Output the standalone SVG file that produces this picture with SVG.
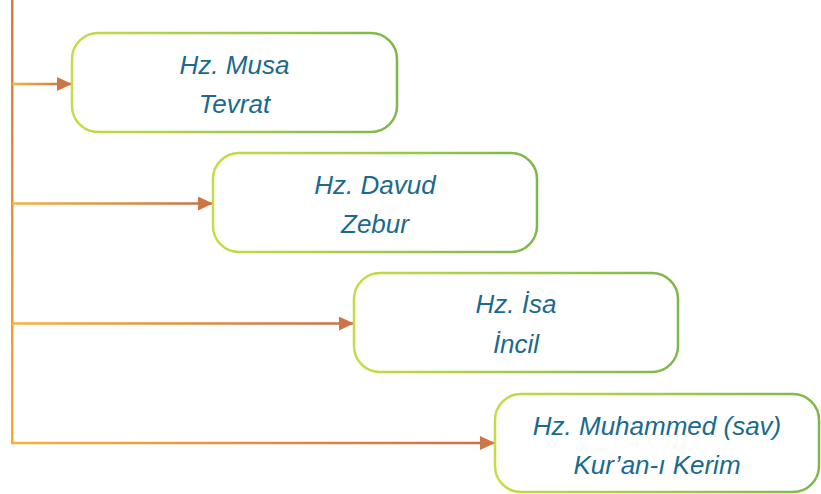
<svg xmlns="http://www.w3.org/2000/svg" width="821" height="494" viewBox="0 0 821 494">
<defs>
<linearGradient id="gBox" x1="0" y1="0" x2="1" y2="0">
<stop offset="0" stop-color="#c5dc45"/>
<stop offset="1" stop-color="#7cb84a"/>
</linearGradient>
<linearGradient id="gV" x1="0" y1="0" x2="0" y2="1">
<stop offset="0" stop-color="#d47c44"/>
<stop offset="1" stop-color="#f7a936"/>
</linearGradient>
<linearGradient id="gH1" gradientUnits="userSpaceOnUse" x1="12" y1="0" x2="72" y2="0">
<stop offset="0" stop-color="#fbb03b"/>
<stop offset="1" stop-color="#c86f4a"/>
</linearGradient>
<linearGradient id="gH2" href="#gH1" gradientUnits="userSpaceOnUse" x1="12" y1="0" x2="213" y2="0"/>
<linearGradient id="gH3" href="#gH1" gradientUnits="userSpaceOnUse" x1="12" y1="0" x2="354" y2="0"/>
<linearGradient id="gH4" href="#gH1" gradientUnits="userSpaceOnUse" x1="12" y1="0" x2="495" y2="0"/>
<marker id="arr" markerWidth="15" markerHeight="14" refX="15" refY="7" orient="auto" markerUnits="userSpaceOnUse">
<path d="M0,0 L15,7 L0,14 Z" fill="#cc7547"/>
</marker>
</defs>
<style>
.box{fill:#ffffff;stroke:url(#gBox);stroke-width:2.5}
.t{font-family:"Liberation Sans",Arial,sans-serif;font-style:italic;font-size:26px;fill:#1a6a8e;text-anchor:middle}
.h{stroke-width:2.5;fill:none}
</style>
<g id="connectors">
<rect x="11" y="0" width="2.5" height="444" fill="url(#gV)"/>
<path class="h" stroke="url(#gH1)" d="M12,84 H72" marker-end="url(#arr)"/>
<path class="h" stroke="url(#gH2)" d="M12,203.5 H213" marker-end="url(#arr)"/>
<path class="h" stroke="url(#gH3)" d="M12,323.5 H354" marker-end="url(#arr)"/>
<path class="h" stroke="url(#gH4)" d="M12,443 H495" marker-end="url(#arr)"/>
</g>
<g id="musa">
<rect class="box" x="72" y="33" width="325" height="99" rx="26"/>
<text class="t" x="234.5" y="74">Hz. Musa</text>
<text class="t" x="234.5" y="113">Tevrat</text>
</g>
<g id="davud">
<rect class="box" x="213" y="153" width="324" height="99" rx="26"/>
<text class="t" x="375" y="194">Hz. Davud</text>
<text class="t" x="375" y="233">Zebur</text>
</g>
<g id="isa">
<rect class="box" x="354" y="273" width="324" height="99" rx="26"/>
<text class="t" x="516" y="313">Hz. İsa</text>
<text class="t" x="516" y="353">İncil</text>
</g>
<g id="muhammed">
<rect class="box" x="495" y="394" width="324" height="98" rx="26"/>
<text class="t" x="657" y="435">Hz. Muhammed (sav)</text>
<text class="t" x="657" y="474">Kur’an-ı Kerim</text>
</g>
</svg>
